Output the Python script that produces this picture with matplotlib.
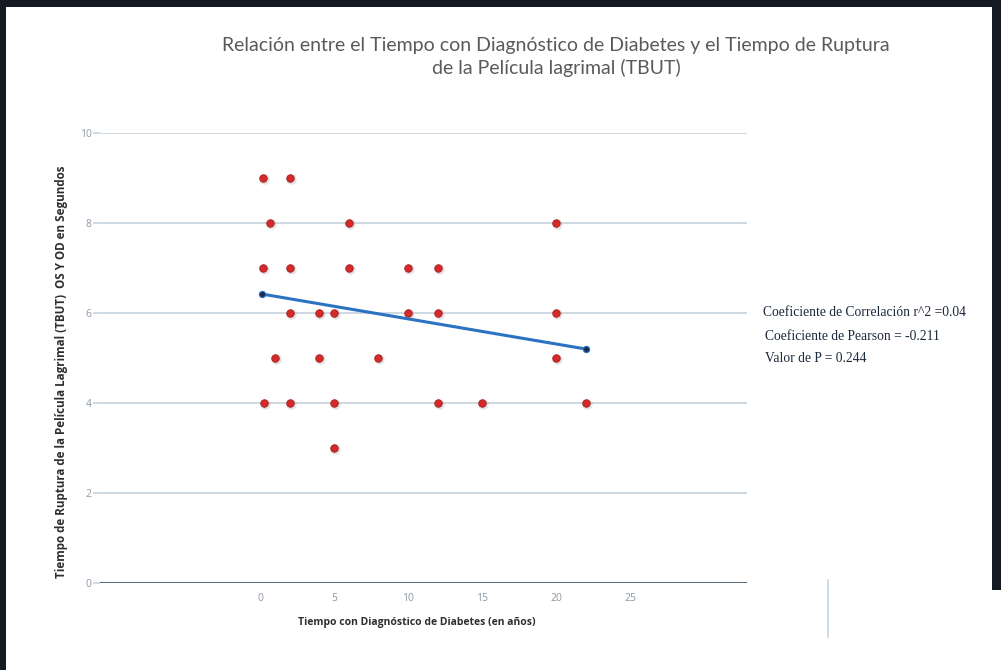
import matplotlib

matplotlib.use("Agg")
import matplotlib.pyplot as plt
import matplotlib.transforms as mtransforms
from matplotlib.lines import Line2D
from matplotlib.patches import Rectangle

# Años con diagnóstico vs TBUT (segundos)
years = [0.2, 2, 0.7, 6, 20, 0.2, 2, 6, 10, 12, 2, 4, 5, 10, 12, 20,
         1, 4, 8, 20, 0.3, 2, 5, 12, 15, 22, 5]
tbut = [9, 9, 8, 8, 8, 7, 7, 7, 7, 7, 6, 6, 6, 6, 6, 6,
        5, 5, 5, 5, 4, 4, 4, 4, 4, 4, 3]

# Recta de regresión (extremos)
fit_x = [0.15, 22]
fit_y = [6.42, 5.2]

x_ticks = [0, 5, 10, 15, 20, 25]
y_ticks = [0, 2, 4, 6, 8, 10]

stats_lines = [
    "Coeficiente de Correlación r^2 =0.04",
    "Coeficiente de Pearson = -0.211",
    "Valor de P = 0.244",
]

W, H = 1001, 670
fig = plt.figure(figsize=(W / 100, H / 100), dpi=100)
fig.patch.set_facecolor("white")

# marco oscuro (arriba, izquierda, derecha)
border = "#131a22"
fig.add_artist(Rectangle((0, 1 - 7 / H), 1, 7 / H, transform=fig.transFigure,
                         facecolor=border, edgecolor="none", zorder=0))
fig.add_artist(Rectangle((0, 0), 6 / W, 1, transform=fig.transFigure,
                         facecolor=border, edgecolor="none", zorder=0))
fig.add_artist(Rectangle((1 - 9 / W, 80 / H), 9 / W, 1 - 80 / H,
                         transform=fig.transFigure,
                         facecolor=border, edgecolor="none", zorder=0))

ax = fig.add_axes([100 / W, 1 - 583 / H, 647 / W, 450 / H])
ax.set_facecolor("white")
ax.set_xlim(-10.81, 32.9)
ax.set_ylim(0, 10)

grid_color = "#c9d6df"
for y in y_ticks[1:]:
    ax.axhline(y, color=grid_color, linewidth=1.3, zorder=1)
ax.axhline(0, color="#5c6b78", linewidth=2.2, zorder=2)

for side in ax.spines.values():
    side.set_visible(False)

ax.set_xticks(x_ticks)
ax.set_yticks(y_ticks)
ax.tick_params(axis="x", length=0, pad=7, labelsize=7.5, labelcolor="#8c99a6")
ax.tick_params(axis="y", length=5, width=1.2, color=grid_color, pad=1,
               labelsize=7.5, labelcolor="#8c99a6")
for lab in ax.get_xticklabels() + ax.get_yticklabels():
    lab.set_family("Open Sans")

# sombra suave bajo los puntos
shadow = mtransforms.offset_copy(ax.transData, fig=fig, x=1.0, y=-1.0,
                                 units="dots")
ax.plot(years, tbut, "o", color="#b0b0b0", markersize=7.5, alpha=0.35,
        markeredgewidth=0, transform=shadow, zorder=3)
ax.plot(years, tbut, "o", color="#d42a2a", markersize=5.4,
        markeredgecolor="#a81c1c", markeredgewidth=0.6, zorder=4)

ax.plot(fit_x, fit_y, color="#2b72c2", linewidth=2.2, zorder=5,
        solid_capstyle="round")
ax.plot(fit_x, fit_y, "o", color="#1a2f55", markersize=4.5,
        markeredgecolor="#2b72c2", markeredgewidth=0.8, zorder=6)

ax.set_xlabel("Tiempo con Diagnóstico de Diabetes (en años)",
              fontsize=7.5, fontweight="bold", color="#2e2e2e",
              family="Open Sans")
ax.xaxis.set_label_coords((417 - 100) / 647, -(617 - 583) / 450)
ax.set_ylabel("Tiempo de Ruptura de la Película Lagrimal (TBUT)  OS Y OD en Segundos",
              fontsize=8.4, fontweight="bold", color="#2e2e2e",
              family="Open Sans")
ax.yaxis.set_label_coords(-(100 - 68) / 647, (583 - 372) / 450)

title_kw = dict(ha="center", va="center", fontsize=14, family="Lato",
                fontweight="normal", color="#5a5a5a")
fig.text(556 / W, 1 - 45 / H,
         "Relación entre el Tiempo con Diagnóstico de Diabetes y el Tiempo de Ruptura",
         **title_kw)
fig.text(556 / W, 1 - 68 / H, "de la Película lagrimal (TBUT)", **title_kw)

for i, line in enumerate(stats_lines):
    fig.text((763 + (2 if i else 0)) / W, 1 - (313 + 23 * i) / H, line,
             ha="left", va="center", fontsize=9.8, family="Liberation Serif",
             color="#1d2a3c")

# filete vertical suelto bajo el bloque de texto
fig.add_artist(Line2D([828 / W, 828 / W], [1 - 580 / H, 1 - 637 / H],
                      transform=fig.transFigure, color="#c8d7e2",
                      linewidth=1.2))

fig.savefig("out.png", dpi=100, facecolor="white")
